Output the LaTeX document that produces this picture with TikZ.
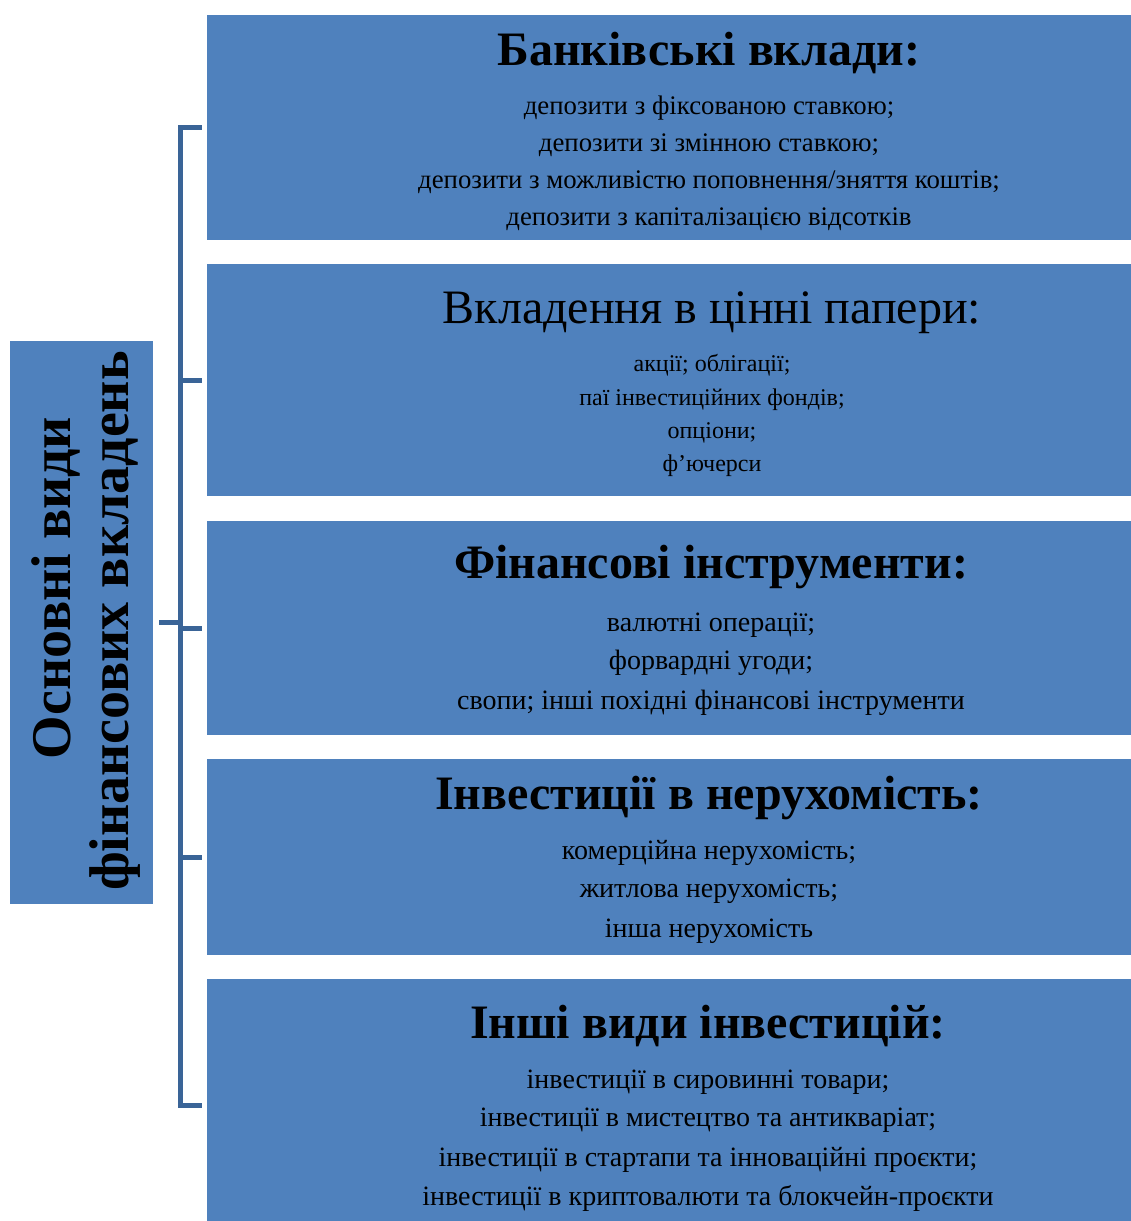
\documentclass[tikz,border=0pt]{standalone}
\usepackage{fontspec}
\setmainfont{Liberation Serif}
\definecolor{boxblue}{HTML}{4F81BD}
\definecolor{brkblue}{HTML}{3A6497}
\tikzset{
  panel/.style={rectangle, fill=boxblue, draw=none, inner sep=0pt},
  ttl/.style={anchor=base, inner sep=0pt, font=\fontsize{48}{52}\selectfont\bfseries},
  ttlreg/.style={anchor=base, inner sep=0pt, font=\fontsize{48}{52}\selectfont},
  itma/.style={anchor=base, inner sep=0pt, font=\fontsize{26.8}{30}\selectfont},
  itm/.style={anchor=base, inner sep=0pt, font=\fontsize{28}{32}\selectfont},
  itmsmall/.style={anchor=base, inner sep=0pt, font=\fontsize{24}{28}\selectfont},
  side/.style={anchor=base, inner sep=0pt, rotate=90, font=\fontsize{56}{58}\selectfont\bfseries},
  brk/.style={draw=brkblue, line width=5pt, line join=miter}
}
\begin{document}
\begin{tikzpicture}[x=1pt,y=-1pt]
\useasboundingbox (0,0) rectangle (1131,1221);
% boxes
\node[panel, minimum width=143, minimum height=563] (L) at (81.5,622.5) {};
\node[panel, minimum width=924, minimum height=225] (b1) at (669,127.5) {};
\node[panel, minimum width=924, minimum height=232] (b2) at (669,380) {};
\node[panel, minimum width=924, minimum height=214] (b3) at (669,628) {};
\node[panel, minimum width=924, minimum height=196] (b4) at (669,857) {};
\node[panel, minimum width=924, minimum height=252] (b5) at (669,1105) {};
% side text
\node[side] (Ll1) at (70,588) {Основні види};
\node[side] (Ll2) at (128,621) {фінансових вкладень};
% box 1
\node[ttl] (b1t) at (709,65) {Банківські вклади:};
\node[itma] (b1a) at (709,114) {депозити з фіксованою ставкою;};
\node[itma] (b1b) at (709,151) {депозити зі змінною ставкою;};
\node[itma] (b1c) at (709,188) {депозити з можливістю поповнення/зняття коштів;};
\node[itma] (b1d) at (709,225) {депозити з капіталізацією відсотків};
% box 2
\node[ttlreg] (b2t) at (712,323) {Вкладення в цінні папери:};
\node[itmsmall] (b2a) at (712,371) {акції; облігації;};
\node[itmsmall] (b2b) at (712,405) {паї інвестиційних фондів;};
\node[itmsmall] (b2c) at (712,438) {опціони;};
\node[itmsmall] (b2d) at (712,471) {ф’ючерси};
% box 3
\node[ttl] (b3t) at (711,578) {Фінансові інструменти:};
\node[itm] (b3a) at (711,631) {валютні операції;};
\node[itm] (b3b) at (711,669) {форвардні угоди;};
\node[itm] (b3c) at (711,709) {свопи; інші похідні фінансові інструменти};
% box 4
\node[ttl] (b4t) at (709,809) {Інвестиції в нерухомість:};
\node[itm] (b4a) at (709,859) {комерційна нерухомість;};
\node[itm] (b4b) at (709,897) {житлова нерухомість;};
\node[itm] (b4c) at (709,937) {інша нерухомість};
% box 5
\node[ttl] (b5t) at (708,1038) {Інші види інвестицій:};
\node[itm] (b5a) at (708,1088) {інвестиції в сировинні товари;};
\node[itm] (b5b) at (708,1126) {інвестиції в мистецтво та антикваріат;};
\node[itm] (b5c) at (708,1166) {інвестиції в стартапи та інноваційні проєкти;};
\node[itm] (b5d) at (708,1205) {інвестиції в криптовалюти та блокчейн-проєкти};
% bracket
\coordinate (t1) at ([xshift=-5pt]b1.west);
\coordinate (t2) at ([xshift=-5pt]b2.west);
\coordinate (t3) at ([xshift=-5pt]b3.west);
\coordinate (t4) at ([xshift=-5pt]b4.west);
\coordinate (t5) at ([xshift=-5pt]b5.west);
\draw[brk] (t1) -- ++(-21,0) |- (t5);
\draw[brk] (t2) -- ++(-23.5,0);
\draw[brk] (t3) -- ++(-23.5,0);
\draw[brk] (t4) -- ++(-23.5,0);
\draw[brk] ([xshift=6pt]L.east) -- ++(22,0);
\end{tikzpicture}
\end{document}
